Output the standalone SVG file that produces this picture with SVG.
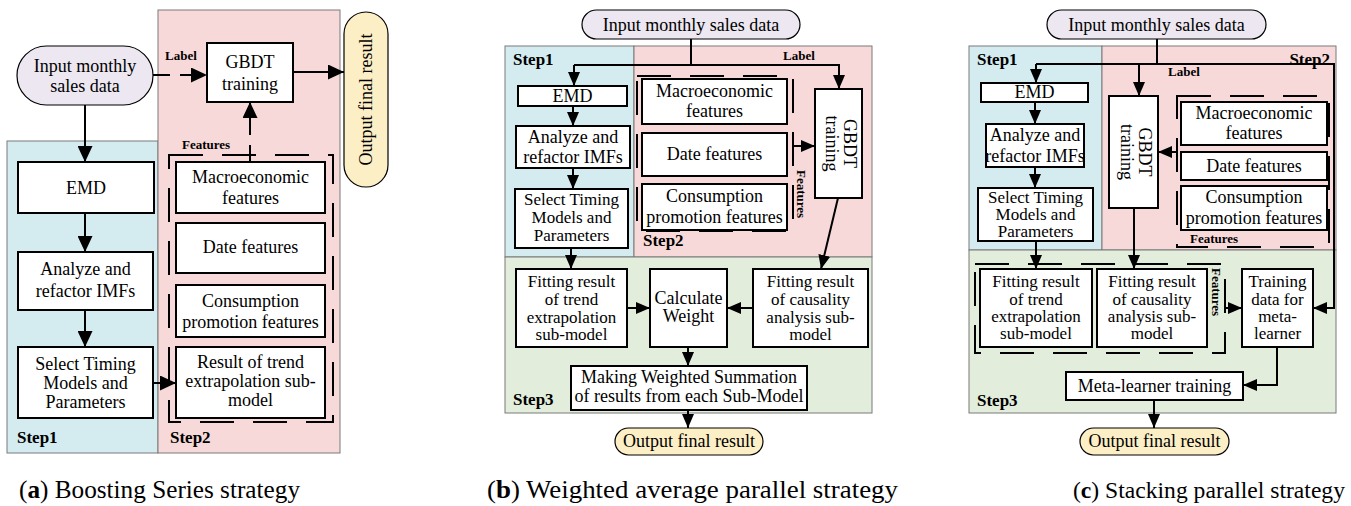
<svg xmlns="http://www.w3.org/2000/svg" width="1351" height="506" viewBox="0 0 1351 506">
<style>
  .t{font-family:"Liberation Serif","Times New Roman",serif;font-size:18px;text-anchor:middle;fill:#000}
  .s{font-size:17px}
  .lb{font-family:"Liberation Serif","Times New Roman",serif;font-size:13px;font-weight:bold;fill:#000}
  .step{font-family:"Liberation Serif","Times New Roman",serif;font-size:17px;font-weight:bold;fill:#000}
  .cap{font-family:"Liberation Serif","Times New Roman",serif;font-size:25px;fill:#000}
  .cap-c{font-size:23px}
  .blue{fill:#d4ebf0;stroke:#7a7a7a;stroke-width:1}
  .pink{fill:#f8d9d9;stroke:#7a7a7a;stroke-width:1}
  .green{fill:#e3eddb;stroke:#7a7a7a;stroke-width:1}
  .box{fill:#fff;stroke:#000;stroke-width:2}
  .inpill{fill:#ece7f0;stroke:#000;stroke-width:1.2}
  .outpill{fill:#fcefc5;stroke:#000;stroke-width:1.2}
  .grp{fill:none;stroke:#000;stroke-width:2;stroke-dasharray:34 19}
  .w{fill:none;stroke:#000;stroke-width:2}
  .wd{fill:none;stroke:#000;stroke-width:2;stroke-dasharray:17 10}
</style>
<defs>
  <marker id="ah" markerUnits="userSpaceOnUse" viewBox="0 0 14 12" refX="14" refY="6" markerWidth="14" markerHeight="12" orient="auto">
    <path d="M0,0 L14,6 L0,12 z" fill="#000"/>
  </marker>
  <marker id="ahL" markerUnits="userSpaceOnUse" viewBox="0 0 16 15" refX="16" refY="7.5" markerWidth="16" markerHeight="15" orient="auto">
    <path d="M0,0 L16,7.5 L0,15 z" fill="#000"/>
  </marker>
</defs>

<!-- ===== (a) Boosting series ===== -->
<g id="a-regions">
  <rect class="blue" x="7" y="141" width="151" height="312"/>
  <rect class="pink" x="158" y="10" width="182" height="443"/>
  <text class="step" x="17" y="443">Step1</text>
  <text class="step" x="170" y="443">Step2</text>
</g>
<g id="a-features-group">
  <rect class="grp" x="169" y="155" width="164" height="267"/>
  <text class="lb" x="182" y="149">Features</text>
</g>
<g id="a-input">
  <rect class="inpill" x="17" y="46" width="136" height="59" rx="29.5"/>
  <text class="t" x="85" y="72">Input monthly</text>
  <text class="t" x="85" y="92">sales data</text>
</g>
<g id="a-emd">
  <rect class="box" x="18" y="162" width="136" height="51"/>
  <text class="t" x="86" y="194">EMD</text>
</g>
<g id="a-analyze">
  <rect class="box" x="18" y="252" width="135" height="58"/>
  <text class="t" x="85.5" y="275">Analyze and</text>
  <text class="t" x="85.5" y="297">refactor IMFs</text>
</g>
<g id="a-select">
  <rect class="box" x="18" y="347" width="135" height="71"/>
  <text class="t" x="85.5" y="370">Select Timing</text>
  <text class="t" x="85.5" y="389">Models and</text>
  <text class="t" x="85.5" y="408">Parameters</text>
</g>
<g id="a-gbdt">
  <rect class="box" x="207" y="43" width="86" height="59"/>
  <text class="t" x="250" y="68">GBDT</text>
  <text class="t" x="250" y="90">training</text>
</g>
<g id="a-output">
  <rect class="outpill" x="344" y="12" width="44" height="175" rx="22"/>
  <text class="t" transform="translate(372,99.5) rotate(-90)" x="0" y="0">Output final result</text>
</g>
<g id="a-macro">
  <rect class="box" x="176" y="162" width="149" height="51"/>
  <text class="t" x="250.5" y="183">Macroeconomic</text>
  <text class="t" x="250.5" y="204">features</text>
</g>
<g id="a-date">
  <rect class="box" x="176" y="223" width="149" height="50"/>
  <text class="t" x="250.5" y="253">Date features</text>
</g>
<g id="a-consumption">
  <rect class="box" x="176" y="285" width="149" height="52"/>
  <text class="t" x="250.5" y="307">Consumption</text>
  <text class="t" x="250.5" y="328">promotion features</text>
</g>
<g id="a-result">
  <rect class="box" x="176" y="347" width="149" height="71"/>
  <text class="t" x="250.5" y="368">Result of trend</text>
  <text class="t" x="250.5" y="387">extrapolation sub-</text>
  <text class="t" x="250.5" y="406">model</text>
</g>
<g id="a-connectors">
  <path class="w" d="M85,105 V162" marker-end="url(#ahL)"/>
  <path class="w" d="M85,213 V252" marker-end="url(#ahL)"/>
  <path class="w" d="M85,310 V347" marker-end="url(#ahL)"/>
  <path class="w" d="M153,383 H176" marker-end="url(#ahL)"/>
  <path class="wd" d="M153,75 H207" marker-end="url(#ahL)"/>
  <path class="wd" d="M250,162 V102" marker-end="url(#ahL)"/>
  <path class="w" d="M293,72 H344" marker-end="url(#ahL)"/>
  <text class="lb" x="165" y="60">Label</text>
</g>

<!-- ===== (b) Weighted average parallel ===== -->
<g id="b-regions">
  <rect class="blue" x="505" y="46" width="129" height="211"/>
  <rect class="pink" x="634" y="46" width="238" height="211"/>
  <rect class="green" x="505" y="257" width="367" height="156"/>
  <text class="step" x="513" y="65">Step1</text>
  <text class="step" x="643" y="246">Step2</text>
  <text class="step" x="513" y="405">Step3</text>
</g>
<g id="b-features-group">
  <rect class="grp" x="637" y="76" width="156" height="155"/>
  <text class="lb" transform="translate(797,194) rotate(90)" x="0" y="0" text-anchor="middle">Features</text>
</g>
<g id="b-input">
  <rect class="inpill" x="582" y="10" width="218" height="29" rx="14.5"/>
  <text class="t" x="691" y="31">Input monthly sales data</text>
</g>
<g id="b-emd">
  <rect class="box" x="518" y="86" width="109" height="20"/>
  <text class="t" x="572.5" y="102">EMD</text>
</g>
<g id="b-analyze">
  <rect class="box" x="516" y="126" width="114" height="42"/>
  <text class="t" x="573" y="143">Analyze and</text>
  <text class="t" x="573" y="163">refactor IMFs</text>
</g>
<g id="b-select">
  <rect class="box" x="515" y="189" width="113" height="59"/>
  <text class="t s" x="571.5" y="205">Select Timing</text>
  <text class="t s" x="571.5" y="223">Models and</text>
  <text class="t s" x="571.5" y="241">Parameters</text>
</g>
<g id="b-macro">
  <rect class="box" x="642" y="79" width="145" height="45"/>
  <text class="t" x="714.5" y="97">Macroeconomic</text>
  <text class="t" x="714.5" y="117">features</text>
</g>
<g id="b-date">
  <rect class="box" x="642" y="133" width="145" height="43"/>
  <text class="t" x="714.5" y="160">Date features</text>
</g>
<g id="b-consumption">
  <rect class="box" x="642" y="184" width="145" height="46"/>
  <text class="t" x="714.5" y="202">Consumption</text>
  <text class="t" x="714.5" y="223">promotion features</text>
</g>
<g id="b-gbdt">
  <rect class="box" x="815" y="89" width="47" height="109"/>
  <g transform="translate(838.5,143.5) rotate(90)">
    <text class="t" x="0" y="-5">GBDT</text>
    <text class="t" x="0" y="13">training</text>
  </g>
</g>
<g id="b-fit-trend">
  <rect class="box" x="516" y="269" width="111" height="78"/>
  <text class="t s" x="571.5" y="287">Fitting result</text>
  <text class="t s" x="571.5" y="305">of trend</text>
  <text class="t s" x="571.5" y="323">extrapolation</text>
  <text class="t s" x="571.5" y="340">sub-model</text>
</g>
<g id="b-calc">
  <rect class="box" x="650" y="269" width="77" height="78"/>
  <text class="t" x="688.5" y="304">Calculate</text>
  <text class="t" x="688.5" y="322">Weight</text>
</g>
<g id="b-fit-causal">
  <rect class="box" x="753" y="269" width="115" height="78"/>
  <text class="t s" x="810.5" y="287">Fitting result</text>
  <text class="t s" x="810.5" y="305">of causality</text>
  <text class="t s" x="810.5" y="323">analysis sub-</text>
  <text class="t s" x="810.5" y="340">model</text>
</g>
<g id="b-summation">
  <rect class="box" x="571" y="366" width="236" height="44"/>
  <text class="t" x="689" y="383">Making Weighted Summation</text>
  <text class="t" x="689" y="402">of results from each Sub-Model</text>
</g>
<g id="b-output">
  <rect class="outpill" x="615" y="428" width="148" height="27" rx="13.5"/>
  <text class="t" x="689" y="447">Output final result</text>
</g>
<g id="b-connectors">
  <path class="w" d="M691,39 V65"/>
  <path class="w" d="M574,65 H839 V89" marker-end="url(#ah)"/>
  <path class="w" d="M574,65 V86" marker-end="url(#ah)"/>
  <path class="w" d="M573,106 V126" marker-end="url(#ah)"/>
  <path class="w" d="M573,168 V189" marker-end="url(#ah)"/>
  <path class="w" d="M571,248 V269" marker-end="url(#ah)"/>
  <path class="w" d="M793,146 H815" marker-end="url(#ah)"/>
  <path class="w" d="M838,198 L821,269" marker-end="url(#ah)"/>
  <path class="w" d="M627,308 H650" marker-end="url(#ah)"/>
  <path class="w" d="M753,308 H727" marker-end="url(#ah)"/>
  <path class="w" d="M688,347 V366" marker-end="url(#ah)"/>
  <path class="w" d="M688,410 V428" marker-end="url(#ah)"/>
  <text class="lb" x="783" y="60">Label</text>
</g>

<!-- ===== (c) Stacking parallel ===== -->
<g id="c-regions">
  <rect class="blue" x="969" y="46" width="133" height="204"/>
  <rect class="pink" x="1102" y="46" width="234" height="204"/>
  <rect class="green" x="969" y="250" width="367" height="163"/>
  <text class="step" x="977" y="65">Step1</text>
  <text class="step" x="1330" y="65" text-anchor="end">Step2</text>
  <text class="step" x="977" y="406">Step3</text>
</g>
<g id="c-features-group">
  <rect class="grp" x="1177" y="96" width="152" height="151"/>
  <text class="lb" x="1190" y="243">Features</text>
</g>
<g id="c-results-group">
  <rect class="grp" x="975" y="264" width="250" height="89"/>
  <text class="lb" transform="translate(1212,292) rotate(90)" x="0" y="0" text-anchor="middle">Features</text>
</g>
<g id="c-input">
  <rect class="inpill" x="1047" y="10" width="219" height="29" rx="14.5"/>
  <text class="t" x="1156.5" y="31">Input monthly sales data</text>
</g>
<g id="c-emd">
  <rect class="box" x="981" y="83" width="107" height="19"/>
  <text class="t" x="1034.5" y="98">EMD</text>
</g>
<g id="c-analyze">
  <rect class="box" x="986" y="124" width="98" height="43"/>
  <text class="t" x="1035" y="141">Analyze and</text>
  <text class="t" x="1035" y="162">refactor IMFs</text>
</g>
<g id="c-select">
  <rect class="box" x="978" y="188" width="115" height="53"/>
  <text class="t s" x="1035.5" y="203">Select Timing</text>
  <text class="t s" x="1035.5" y="220">Models and</text>
  <text class="t s" x="1035.5" y="237">Parameters</text>
</g>
<g id="c-gbdt">
  <rect class="box" x="1109" y="96" width="49" height="112"/>
  <g transform="translate(1133.5,152) rotate(90)">
    <text class="t" x="0" y="-5">GBDT</text>
    <text class="t" x="0" y="13">training</text>
  </g>
</g>
<g id="c-macro">
  <rect class="box" x="1181" y="102" width="146" height="43"/>
  <text class="t" x="1254" y="119">Macroeconomic</text>
  <text class="t" x="1254" y="139">features</text>
</g>
<g id="c-date">
  <rect class="box" x="1181" y="152" width="146" height="28"/>
  <text class="t" x="1254" y="172">Date features</text>
</g>
<g id="c-consumption">
  <rect class="box" x="1181" y="186" width="146" height="44"/>
  <text class="t" x="1254" y="203">Consumption</text>
  <text class="t" x="1254" y="224">promotion features</text>
</g>
<g id="c-fit-trend">
  <rect class="box" x="980" y="269" width="112" height="78"/>
  <text class="t s" x="1036" y="287">Fitting result</text>
  <text class="t s" x="1036" y="305">of trend</text>
  <text class="t s" x="1036" y="322">extrapolation</text>
  <text class="t s" x="1036" y="339">sub-model</text>
</g>
<g id="c-fit-causal">
  <rect class="box" x="1097" y="269" width="110" height="78"/>
  <text class="t s" x="1152" y="287">Fitting result</text>
  <text class="t s" x="1152" y="305">of causality</text>
  <text class="t s" x="1152" y="322">analysis sub-</text>
  <text class="t s" x="1152" y="339">model</text>
</g>
<g id="c-training-data">
  <rect class="box" x="1242" y="269" width="71" height="78"/>
  <text class="t s" x="1277.5" y="287">Training</text>
  <text class="t s" x="1277.5" y="305">data for</text>
  <text class="t s" x="1277.5" y="322">meta-</text>
  <text class="t s" x="1277.5" y="339">learner</text>
</g>
<g id="c-meta">
  <rect class="box" x="1066" y="372" width="177" height="28"/>
  <text class="t" x="1154.5" y="392">Meta-learner training</text>
</g>
<g id="c-output">
  <rect class="outpill" x="1080" y="428" width="149" height="27" rx="13.5"/>
  <text class="t" x="1154.5" y="447">Output final result</text>
</g>
<g id="c-connectors">
  <path class="w" d="M1157,39 V64"/>
  <path class="w" d="M1036,64 H1334 V308 H1313" marker-end="url(#ah)"/>
  <path class="w" d="M1036,64 V83" marker-end="url(#ah)"/>
  <path class="w" d="M1139,64 V96" marker-end="url(#ah)"/>
  <path class="w" d="M1035,102 V124" marker-end="url(#ah)"/>
  <path class="w" d="M1035,167 V188" marker-end="url(#ah)"/>
  <path class="w" d="M1036,241 V269" marker-end="url(#ah)"/>
  <path class="w" d="M1134,208 V269" marker-end="url(#ah)"/>
  <path class="w" d="M1177,152 H1158" marker-end="url(#ah)"/>
  <path class="w" d="M1225,308 H1242" marker-end="url(#ah)"/>
  <path class="w" d="M1277,347 V385 H1243" marker-end="url(#ah)"/>
  <path class="w" d="M1154,400 V428" marker-end="url(#ah)"/>
  <text class="lb" x="1168" y="76">Label</text>
</g>

<!-- captions -->
<g id="captions">
  <text class="cap" x="19" y="498" textLength="281" lengthAdjust="spacingAndGlyphs">(<tspan font-weight="bold">a</tspan>) Boosting Series strategy</text>
  <text class="cap" x="487" y="498" textLength="411" lengthAdjust="spacingAndGlyphs">(<tspan font-weight="bold">b</tspan>) Weighted average parallel strategy</text>
  <text class="cap cap-c" x="1073" y="498" textLength="272" lengthAdjust="spacingAndGlyphs">(<tspan font-weight="bold">c</tspan>) Stacking parallel strategy</text>
</g>
</svg>
